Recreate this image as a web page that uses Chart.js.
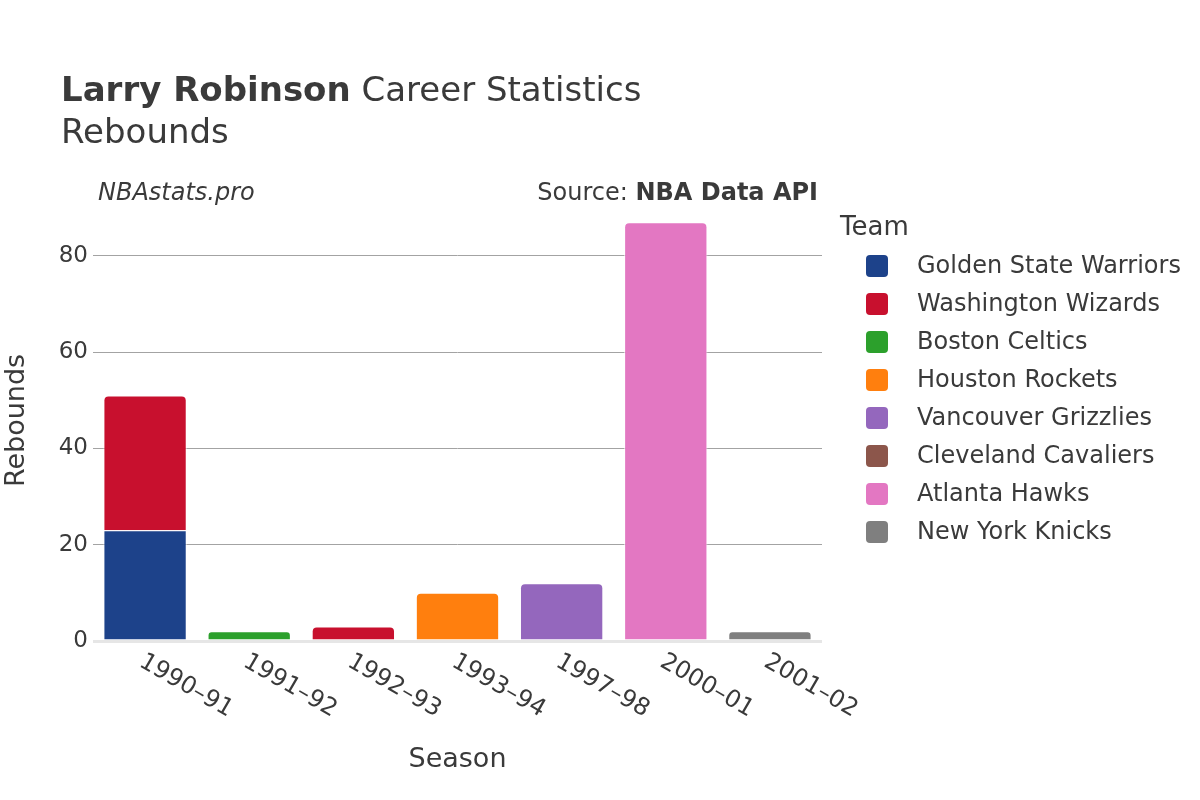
<!DOCTYPE html>
<html>
<head>
<meta charset="utf-8">
<script src="https://cdn.jsdelivr.net/npm/chart.js@4.4.1/dist/chart.umd.min.js"></script>
<style>
  body { margin: 0; background: #fff; }
  #wrap { width: 1200px; height: 800px; }
</style>
</head>
<body>
<div id="wrap"><canvas id="chart" width="1200" height="800"></canvas></div>
<script>
//-----------------------------------------------------------------------------
// Data
const seasons = ['1990–91', '1991–92', '1992–93', '1993–94', '1997–98', '2000–01', '2001–02'];
const teams = ['Golden State Warriors', 'Washington Wizards', 'Boston Celtics', 'Houston Rockets',
  'Vancouver Grizzlies', 'Cleveland Cavaliers', 'Atlanta Hawks', 'New York Knicks'];
const teamColors = ['#1d428a', '#c8102e', '#2ca02c', '#ff7f0e', '#9467bd', '#8c564b', '#e377c2', '#7f7f7f'];

const gswRebounds = [23, null, null, null, null, null, null];
const wasRebounds = [28, null, 3, null, null, null, null];
const bosRebounds = [null, 2, null, null, null, null, null];
const houRebounds = [null, null, null, 10, null, null, null];
const vanRebounds = [null, null, null, null, 12, null, null];
const cleRebounds = [null, null, null, null, null, null, null];
const atlRebounds = [null, null, null, null, null, 87, null];
const nykRebounds = [null, null, null, null, null, null, 2];
const teamRebounds = [gswRebounds, wasRebounds, bosRebounds, houRebounds,
  vanRebounds, cleRebounds, atlRebounds, nykRebounds];

const yTicks = [0, 20, 40, 60, 80];

const FONT = 'DejaVu Sans';
const TEXT = '#3a3a3a';

//-----------------------------------------------------------------------------
// Decorations (titles, rotated season labels, legend)
const decorations = {
  id: 'decorations',
  afterDraw(chart) {
    const ctx = chart.ctx;
    const xs = chart.scales.x;
    const area = chart.chartArea;
    ctx.save();
    ctx.fillStyle = TEXT;

    // title
    ctx.textBaseline = 'alphabetic';
    ctx.textAlign = 'left';
    ctx.font = `bold 34px "${FONT}"`;
    ctx.fillText('Larry Robinson', 61, 101);
    const w = ctx.measureText('Larry Robinson').width;
    ctx.font = `34px "${FONT}"`;
    ctx.fillText(' Career Statistics', 61 + w, 101);
    ctx.fillText('Rebounds', 61, 143);

    // sub header
    ctx.font = `italic 24px "${FONT}"`;
    ctx.fillText('NBAstats.pro', 98, 200);
    ctx.textAlign = 'right';
    ctx.font = `bold 24px "${FONT}"`;
    ctx.fillText('NBA Data API', 818, 200);
    const bw = ctx.measureText('NBA Data API').width;
    ctx.font = `24px "${FONT}"`;
    ctx.fillText('Source: ', 818 - bw, 200);

    // season labels, rotated
    ctx.font = `24px "${FONT}"`;
    ctx.textAlign = 'left';
    ctx.textBaseline = 'middle';
    seasons.forEach(function(s, i) {
      const x = xs.getPixelForValue(i);
      ctx.save();
      ctx.translate(x - 4, area.bottom + 19);
      ctx.rotate(Math.PI / 6);
      ctx.fillText(s, 0, 0);
      ctx.restore();
    });

    // axis titles
    ctx.font = `27px "${FONT}"`;
    ctx.textAlign = 'center';
    ctx.fillText('Season', (area.left + area.right) / 2, 760);
    ctx.save();
    ctx.translate(17, (area.top + area.bottom) / 2);
    ctx.rotate(-Math.PI / 2);
    ctx.fillText('Rebounds', 0, 0);
    ctx.restore();

    // legend
    ctx.textAlign = 'left';
    ctx.font = `26px "${FONT}"`;
    ctx.fillText('Team', 840, 228);
    ctx.font = `24px "${FONT}"`;
    teams.forEach(function(t, i) {
      const y = 266 + i * 38;
      ctx.fillStyle = teamColors[i];
      ctx.beginPath();
      ctx.roundRect(866, y - 11, 22, 22, 4);
      ctx.fill();
      ctx.fillStyle = TEXT;
      ctx.fillText(t, 917, y + 1);
    });
    ctx.restore();
  }
};

//-----------------------------------------------------------------------------
// Chart
Chart.defaults.font.family = FONT;
Chart.defaults.color = TEXT;

const datasets = teams.map(function(t, i) {
  return {
    label: t,
    data: teamRebounds[i],
    backgroundColor: teamColors[i],
    borderColor: 'rgba(255,255,255,0.7)',
    borderWidth: 1,
    borderRadius: 5,
    borderSkipped: 'start',
    categoryPercentage: 1,
    barPercentage: 0.8
  };
});

new Chart(document.getElementById('chart'), {
  type: 'bar',
  data: { labels: seasons, datasets: datasets },
  options: {
    responsive: false,
    animation: false,
    layout: { padding: { top: 200, right: 378, left: 0, bottom: 0 } },
    plugins: {
      legend: { display: false },
      title: { display: false },
      tooltip: { enabled: false }
    },
    scales: {
      x: {
        stacked: true,
        grid: { display: false },
        border: { display: false },
        ticks: { display: false },
        afterFit: function(scale) { scale.height = 159; }
      },
      y: {
        stacked: true,
        min: 0,
        max: 91.6,
        border: { display: false },
        afterBuildTicks: function(scale) {
          scale.ticks = yTicks.map(function(v) { return { value: v }; });
        },
        grid: {
          drawTicks: false,
          color: function(c) { return c.tick && c.tick.value === 0 ? '#e6e6e6' : '#a3a3a3'; },
          lineWidth: function(c) { return c.tick && c.tick.value === 0 ? 3 : 1; }
        },
        ticks: {
          padding: 5,
          font: { size: 23 },
          color: TEXT
        },
        afterFit: function(scale) { scale.width = 93; }
      }
    }
  },
  plugins: [decorations]
});
</script>
</body>
</html>
